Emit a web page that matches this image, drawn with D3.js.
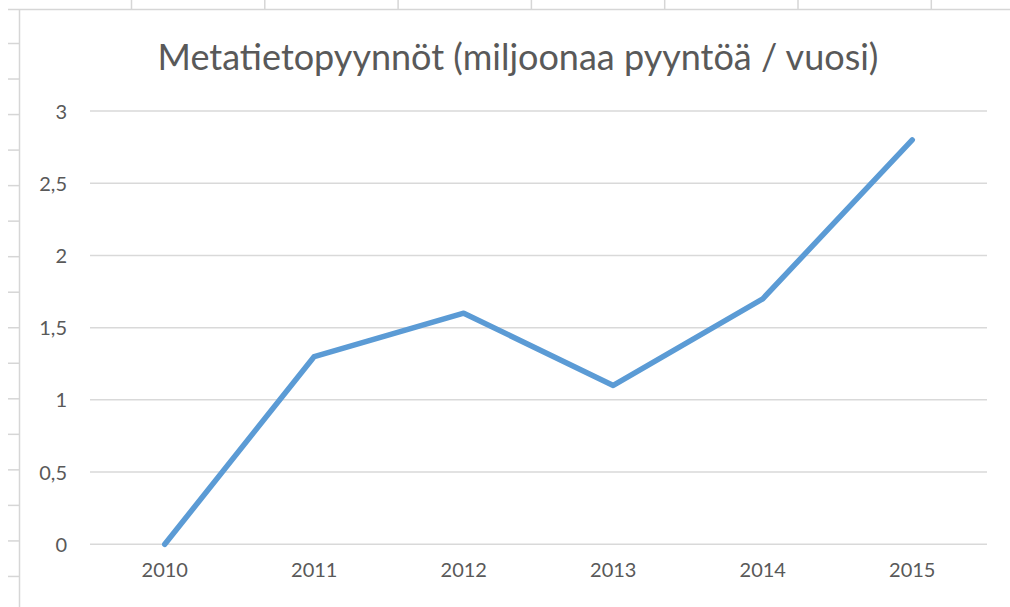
<!DOCTYPE html>
<html>
<head>
<meta charset="utf-8">
<script src="https://cdn.jsdelivr.net/npm/d3@7"></script>
<style>
  html, body { margin: 0; padding: 0; background: #fff; }
  svg { display: block; }
  text { font-family: Lato, "Open Sans", sans-serif; fill: #595959; }
</style>
</head>
<body>
<svg id="chart" width="1010" height="607"></svg>
<script>
const title = "Metatietopyynnöt (miljoonaa pyyntöä / vuosi)";
const years = ["2010", "2011", "2012", "2013", "2014", "2015"];
const requests = [0, 1.3, 1.6, 1.1, 1.7, 2.8];
const yTicks = [0, 0.5, 1, 1.5, 2, 2.5, 3];

const W = 1010, H = 607;
const svg = d3.select("#chart");

// Spreadsheet background (cells behind the chart object)
const sheet = svg.append("g").attr("stroke", "#d6d6d6").attr("stroke-width", 1.5);
sheet.append("line").attr("x1", 8).attr("x2", W).attr("y1", 9.5).attr("y2", 9.5);
d3.range(7).forEach(i => {
  const x = 131.5 + i * 133.3;
  sheet.append("line").attr("x1", x).attr("x2", x).attr("y1", 0).attr("y2", 9.5);
});
sheet.append("line").attr("x1", 19.5).attr("x2", 19.5).attr("y1", 9.5).attr("y2", H);
d3.range(16).forEach(i => {
  const y = 43.5 + i * 35.53;
  sheet.append("line").attr("x1", 8).attr("x2", 19.5).attr("y1", y).attr("y2", y);
});

// Plot area
const plot = { left: 90, right: 987, top: 111, bottom: 544.3 };

const x = d3.scaleBand().domain(years).range([plot.left, plot.right]);
const y = d3.scaleLinear().domain([0, 3]).range([plot.bottom, plot.top]);

// Gridlines
svg.append("g")
  .selectAll("line")
  .data(yTicks)
  .join("line")
  .attr("x1", plot.left).attr("x2", plot.right)
  .attr("y1", d => y(d)).attr("y2", d => y(d))
  .attr("stroke", "#d9d9d9").attr("stroke-width", 1.5);

// Y axis labels
const yAxis = d3.axisLeft(y).tickValues(yTicks).tickSize(0).tickPadding(0)
  .tickFormat(d => String(d).replace(".", ","));
const gy = svg.append("g").attr("transform", "translate(67,0)").call(yAxis);
gy.select(".domain").remove();
gy.selectAll("text").attr("font-size", 20).attr("fill", "#595959")
  .style("font-family", "Lato, 'Open Sans', sans-serif").attr("dy", "0.35em");

// X axis labels
const xAxis = d3.axisBottom(x).tickSize(0).tickPadding(0);
const gx = svg.append("g").attr("transform", `translate(0,${plot.bottom})`).call(xAxis);
gx.select(".domain").remove();
gx.selectAll("text").attr("font-size", 20).attr("fill", "#595959")
  .style("font-family", "Lato, 'Open Sans', sans-serif").attr("dy", "1.65em");

// Line
const line = d3.line()
  .x((d, i) => x(years[i]) + x.bandwidth() / 2)
  .y(d => y(d));
svg.append("path")
  .datum(requests)
  .attr("d", line)
  .attr("fill", "none")
  .attr("stroke", "#5b9bd5")
  .attr("stroke-width", 5.5)
  .attr("stroke-linejoin", "round")
  .attr("stroke-linecap", "round");

// Title
svg.append("text")
  .attr("x", 518).attr("y", 70)
  .attr("text-anchor", "middle")
  .attr("font-size", 36)
  .attr("fill", "#595959")
  .text(title);
</script>
</body>
</html>
